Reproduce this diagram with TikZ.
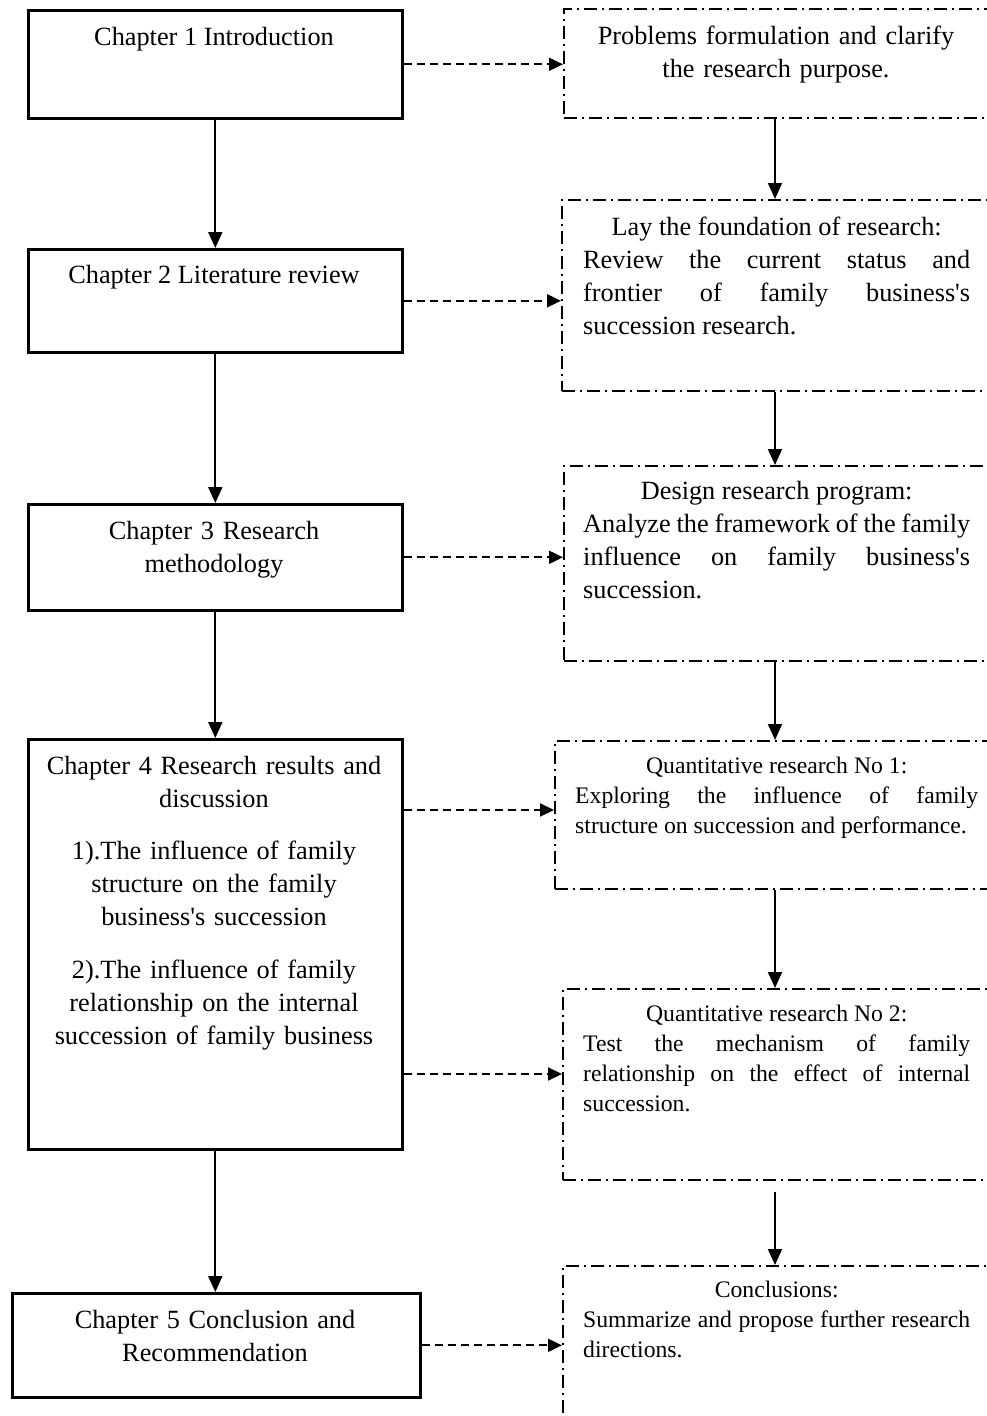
\documentclass[tikz,border=0pt]{standalone}
\usepackage{fontspec}
\setmainfont{Liberation Serif}[Ligatures=TeXOff]
\usetikzlibrary{arrows.meta}
\newcommand\titleline[1]{\hfil #1\hfil\null\linebreak}
\tikzset{
 lbox/.style={draw, line width=2.6pt, inner sep=0pt, anchor=north west},
 rbox/.style={draw, line width=1.6pt, dash pattern=on 13pt off 5pt on 2pt off 5pt, inner sep=0pt, anchor=north west},
 big/.style={font=\fontsize{26.3}{33}\selectfont, inner sep=0pt},
 small/.style={font=\fontsize{23.7}{30}\selectfont, inner sep=0pt},
 jtext/.style={anchor=base west, align=justify, execute at begin node={\parindent=0pt\tolerance=10000\hbadness=10000\hyphenpenalty=10000\exhyphenpenalty=10000}},
 ctext/.style={anchor=base, align=center},
 arr/.style={line width=1.9pt, -{Triangle[length=16pt,width=14pt]}},
 darr/.style={line width=1.9pt, dash pattern=on 8pt off 5pt, -{Triangle[length=14pt,width=13pt]}},
}
\begin{document}
\begin{tikzpicture}[x=1pt,y=-1pt]
\useasboundingbox (0,0) rectangle (987,1416);
\clip (0,0) rectangle (987,1416);
% left boxes
\node[lbox, minimum width=374pt, minimum height=108pt] (l1) at (27,9) {};
\node[lbox, minimum width=374pt, minimum height=103pt] (l2) at (27,248) {};
\node[lbox, minimum width=374pt, minimum height=106pt] (l3) at (27,503) {};
\node[lbox, minimum width=374pt, minimum height=410pt] (l4) at (27,738) {};
\node[lbox, minimum width=408pt, minimum height=104pt] (l5) at (11,1292) {};
% right boxes
\node[rbox, minimum width=437pt, minimum height=109pt] (r1) at (563,8) {};
\node[rbox, minimum width=439pt, minimum height=191pt] (r2) at (561,199) {};
\node[rbox, minimum width=437pt, minimum height=195pt] (r3) at (563,465) {};
\node[rbox, minimum width=446pt, minimum height=148pt] (r4) at (554,740) {};
\node[rbox, minimum width=438pt, minimum height=191pt] (r5) at (562,988) {};
\node[rbox, minimum width=438pt, minimum height=190pt] (r6) at (562,1265) {};
% left texts
\node[big, ctext] (t1) at (214,45) {Chapter 1 Introduction};
\node[big, ctext] (t2) at (214,283) {Chapter 2 Literature review};
\node[big, ctext, text width=360pt] (t3) at (214,539) {Chapter 3 Research\\ methodology};
\node[big, ctext, text width=360pt] (t4) at (214,774) {Chapter 4 Research results and\\ discussion\par\vspace{19pt}1).The influence of family\\ structure on the family\\ business's succession\par\vspace{20pt}2).The influence of family\\ relationship on the internal\\ succession of family business};
\node[big, ctext, text width=400pt] (t5) at (215,1328) {Chapter 5 Conclusion and\\ Recommendation};
% right texts
\node[big, ctext, text width=420pt] (s1) at (776,44) {Problems formulation and clarify\\ the research purpose.};
\node[big, jtext, text width=387pt] (s2) at (583,235) {\titleline{Lay the foundation of research:}Review the current status and\linebreak frontier of family business's\linebreak succession research.};
\node[big, jtext, text width=387pt] (s3) at (583,499) {\titleline{Design research program:}Analyze the framework of the family\linebreak influence on family business's\linebreak succession.};
\node[small, jtext, text width=403pt] (s4) at (575,773) {\titleline{Quantitative research No 1:}Exploring the influence of family\linebreak structure on succession and performance.};
\node[small, jtext, text width=387pt] (s5) at (583,1021) {\titleline{Quantitative research No 2:}Test the mechanism of family\linebreak relationship on the effect of internal\linebreak succession.};
\node[small, jtext, text width=387pt] (s6) at (583,1297) {\titleline{Conclusions:}Summarize and propose further research\linebreak directions.};
% left vertical arrows
\draw[arr] (l1) -- (l2);
\draw[arr] (l2) -- (l3);
\draw[arr] (l3) -- (l4);
\draw[arr] (l4.south) -- (l4.south |- l5.north);
% dashed arrows
\coordinate (c4) at (0,810);
\coordinate (c5) at (0,1074);
\draw[darr] (l1.east) -- (l1.east -| r1.west);
\draw[darr] (l2.east) -- (l2.east -| r2.west);
\draw[darr] (l3.east) -- (l3.east -| r3.west);
\draw[darr] (l4.east |- c4) -- (r4.west |- c4);
\draw[darr] (l4.east |- c5) -- (r5.west |- c5);
\draw[darr] (l5.east) -- (l5.east -| r6.west);
% right vertical arrows
\coordinate (rx) at (775,0);
\draw[arr] (r1.south -| rx) -- (r2.north -| rx);
\draw[arr] (r2.south -| rx) -- (r3.north -| rx);
\draw[arr] (r3.south -| rx) -- (r4.north -| rx);
\draw[arr] (r4.south -| rx) -- (r5.north -| rx);
\draw[arr, shorten <=11pt] (r5.south -| rx) -- (r6.north -| rx);
\end{tikzpicture}
\end{document}
